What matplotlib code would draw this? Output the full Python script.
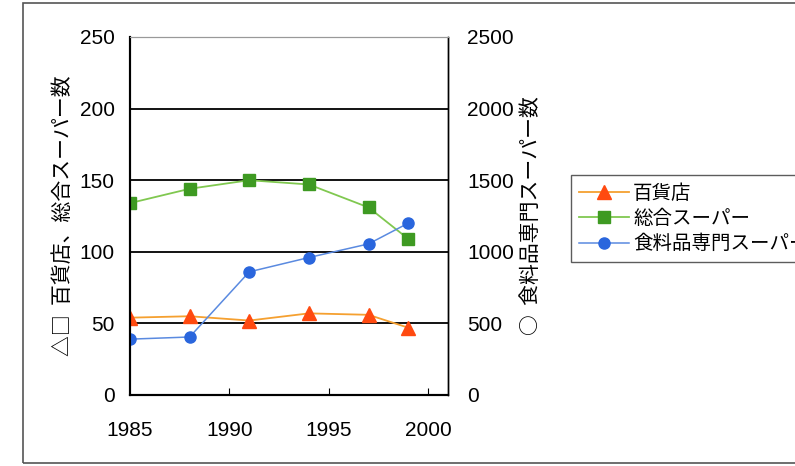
import matplotlib
matplotlib.use("Agg")
import matplotlib.pyplot as plt
from matplotlib.patches import Rectangle

plt.rcParams['font.family'] = ['Noto Sans CJK JP', 'DejaVu Sans']

years = [1985, 1988, 1991, 1994, 1997, 1999]
dept_stores = [54, 55, 52, 57, 56, 47]
general_supers = [134, 144, 150, 147, 131, 109]
food_supers = [390, 405, 860, 960, 1055, 1200]

labels = ['百貨店', '総合スーパー', '食料品専門スーパー']

fig = plt.figure(figsize=(7.95, 4.66), dpi=100)
ax = fig.add_axes([130 / 795, 1 - 395 / 466, 318 / 795, 358 / 466])
ax2 = ax.twinx()

# outer frame around the whole chart
fig.patches.append(Rectangle((23 / 795, 3 / 466), 0.99, 460 / 466, transform=fig.transFigure,
                             fill=False, edgecolor='#555555', lw=1.2))

l1, = ax.plot(years, dept_stores, color='#f5a030', lw=1.3, marker='^', ms=9.5,
              mfc='#ff4a10', mec='#ff4a10', label=labels[0])
l2, = ax.plot(years, general_supers, color='#80c850', lw=1.3, marker='s', ms=8.5,
              mfc='#3e9a22', mec='#3e9a22', label=labels[1])
l3, = ax2.plot(years, food_supers, color='#5a8ae0', lw=1.1, marker='o', ms=8,
               mfc='#2a66dd', mec='#2a66dd', label=labels[2])

ax.set_xlim(1985, 2001)
ax.set_ylim(0, 250)
ax2.set_ylim(0, 2500)
ax.set_xticks([1985, 1990, 1995, 2000])
ax.set_yticks([0, 50, 100, 150, 200, 250])
ax2.set_yticks([0, 500, 1000, 1500, 2000, 2500])

for y in [50, 100, 150, 200]:
    ax.axhline(y, color='black', lw=1.3, zorder=0)

ax.tick_params(axis='x', direction='in', length=5, labelsize=15, pad=19, colors='black')
ax.tick_params(axis='y', length=0, labelsize=15, pad=11)
ax2.tick_params(axis='y', length=0, labelsize=15, pad=14)
for t in ax.get_xticklabels() + ax.get_yticklabels() + ax2.get_yticklabels():
    t.set_family(['Liberation Sans', 'DejaVu Sans'])
ax.xaxis.get_major_ticks()[0].tick1line.set_visible(False)

for a in (ax, ax2):
    a.spines['left'].set_linewidth(1.5)
    a.spines['bottom'].set_linewidth(1.5)
    a.spines['right'].set_linewidth(1.0)
    a.spines['top'].set_color('#999999')
    a.spines['top'].set_linewidth(0.8)

ax.set_ylabel('△□  百貨店、総合スーパー数', fontsize=15, labelpad=4)
ax2.set_ylabel('○  食料品専門スーパー数', fontsize=15, labelpad=4)

leg = fig.legend([l1, l2, l3], labels, loc='upper left', bbox_to_anchor=(571 / 795, 1 - 175 / 466),
                 fontsize=14, frameon=True, fancybox=False, edgecolor='#333333',
                 handlelength=2.6, handletextpad=0.2, borderpad=0.4, labelspacing=0.22,
                 borderaxespad=0)
leg.get_frame().set_linewidth(1.0)

fig.savefig('out.png', dpi=100)
